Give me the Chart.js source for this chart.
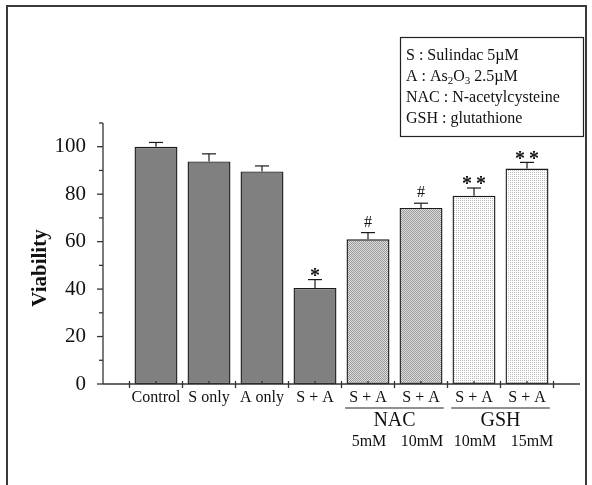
<!DOCTYPE html>
<html>
<head>
<meta charset="utf-8">
<script src="https://cdn.jsdelivr.net/npm/chart.js@4/dist/chart.umd.min.js"></script>
<style>
  html, body { margin: 0; padding: 0; background: #fff; }
  canvas { display: block; }
</style>
</head>
<body>
<canvas id="chart" width="592" height="485"></canvas>
<script>
const xLabels = ['Control', 'S only', 'A only', 'S + A', 'S + A', 'S + A', 'S + A', 'S + A'];
const viability = [100, 93.8, 89.6, 40.5, 61, 74.2, 79.3, 90.8];
const errorUp = [1.8, 3.2, 2.3, 3.5, 2.8, 2.0, 3.3, 2.6];
const marks = ['', '', '', '*', '#', '#', '**', '**'];
const doses = ['', '', '', '', '5mM', '10mM', '10mM', '15mM'];
const groupNames = ['NAC', 'GSH'];
const groupStart = [4, 6];
const groupEnd = [5, 7];
const yMajorTicks = [0, 20, 40, 60, 80, 100];
const yMinorTicks = [10, 30, 50, 70, 90, 110];

const SERIF = '"Liberation Serif", "Times New Roman", serif';
const INK = '#1a1a1a';

const canvas = document.getElementById('chart');
const ctx = canvas.getContext('2d');

function makePattern(size, draw) {
  const c = document.createElement('canvas');
  c.width = size[0];
  c.height = size[1];
  draw(c.getContext('2d'));
  return ctx.createPattern(c, 'repeat');
}

// NAC bars: fine checker, GSH bars: dotted vertical lines
const nacFill = makePattern([2, 2], (g) => {
  g.fillStyle = '#dcdcdc';
  g.fillRect(0, 0, 2, 2);
  g.fillStyle = '#9c9c9c';
  g.fillRect(0, 0, 1, 1);
  g.fillRect(1, 1, 1, 1);
});
const gshFill = makePattern([2, 2], (g) => {
  g.fillStyle = '#ffffff';
  g.fillRect(0, 0, 2, 2);
  g.fillStyle = '#bdbdbd';
  g.fillRect(0, 0, 1, 1);
});
const solidFill = '#808080';
const barFills = [solidFill, solidFill, solidFill, solidFill, nacFill, nacFill, gshFill, gshFill];

function line(x1, y1, x2, y2) {
  ctx.beginPath();
  ctx.moveTo(x1, y1);
  ctx.lineTo(x2, y2);
  ctx.stroke();
}

const decorations = {
  id: 'decorations',
  afterDraw(chart) {
    const { ctx: c, scales: { x, y } } = chart;
    const x0 = x.getPixelForValue(-1);
    const x1 = x.getPixelForValue(8);
    const yBase = y.getPixelForValue(0);
    const yTop = y.getPixelForValue(110);

    c.save();
    // outer frame
    c.strokeStyle = '#3a3a3a';
    c.lineWidth = 2;
    c.strokeRect(7, 6, 579, 500);

    // axes
    c.strokeStyle = '#333';
    c.lineWidth = 1.3;
    line(x0, yTop, x0, yBase);
    line(x0, yBase, x1, yBase);

    yMajorTicks.forEach((v) => {
      const py = y.getPixelForValue(v);
      line(x0 - 6, py, x0, py);
    });
    yMinorTicks.forEach((v) => {
      const py = y.getPixelForValue(v);
      line(x0 - 4, py, x0, py);
    });
    for (let i = 0; i <= xLabels.length; i++) {
      const px = x.getPixelForValue(i - 0.5);
      line(px, yBase - 3, px, yBase + 4);
    }
    xLabels.forEach((_, i) => {
      const px = x.getPixelForValue(i);
      line(px, yBase - 3, px, yBase);
    });

    // error bars
    c.strokeStyle = INK;
    c.lineWidth = 1.2;
    viability.forEach((v, i) => {
      const px = x.getPixelForValue(i);
      const top = y.getPixelForValue(v);
      const cap = y.getPixelForValue(v + errorUp[i]);
      line(px, top, px, cap);
      line(px - 7, cap, px + 7, cap);
    });

    // significance marks
    c.fillStyle = '#111';
    c.textAlign = 'center';
    c.textBaseline = 'middle';
    marks.forEach((m, i) => {
      if (!m) return;
      const px = x.getPixelForValue(i);
      const cap = y.getPixelForValue(viability[i] + errorUp[i]);
      if (m === '#') {
        c.font = `16px ${SERIF}`;
        c.fillText(m, px, cap - 10);
      } else {
        c.font = `bold 20px ${SERIF}`;
        c.fillText(m.split('').join('\u2009'), px, cap - 3);
      }
    });

    // group brackets
    c.strokeStyle = '#222';
    c.lineWidth = 1;
    groupNames.forEach((name, g) => {
      const a = x.getPixelForValue(groupStart[g] - 0.43);
      const b = x.getPixelForValue(groupEnd[g] + 0.43);
      line(a, yBase + 24, b, yBase + 24);
      c.font = `20px ${SERIF}`;
      c.fillText(name, x.getPixelForValue((groupStart[g] + groupEnd[g]) / 2), yBase + 37);
    });
    c.font = `16px ${SERIF}`;
    doses.forEach((d, i) => {
      if (!d) return;
      c.fillText(d, x.getPixelForValue(i) + (i === 7 ? 5 : 1), yBase + 58);
    });

    // y title
    c.save();
    c.translate(41, 268);
    c.rotate(-Math.PI / 2);
    c.font = `bold 21px ${SERIF}`;
    c.fillText('Viability', 0, 0);
    c.restore();

    // key box
    c.strokeStyle = '#222';
    c.lineWidth = 1.2;
    c.strokeRect(400.5, 37.5, 183, 99);
    c.textAlign = 'left';
    c.textBaseline = 'alphabetic';
    c.font = `16px ${SERIF}`;
    const lx = 406;
    c.fillText('S : Sulindac 5\u00b5M', lx, 60);
    let px = lx;
    const parts = [['A : As', 0], ['2', 1], ['O', 0], ['3', 1], [' 2.5\u00b5M', 0]];
    parts.forEach(([t, sub]) => {
      c.font = sub ? `11px ${SERIF}` : `16px ${SERIF}`;
      c.fillText(t, px, sub ? 84 : 81);
      px += c.measureText(t).width;
    });
    c.font = `16px ${SERIF}`;
    c.fillText('NAC : N-acetylcysteine', lx, 102);
    c.fillText('GSH : glutathione', lx, 123);
    c.restore();
  },
};

new Chart(ctx, {
  type: 'bar',
  data: {
    datasets: [{
      data: viability.map((v, i) => ({ x: i, y: v })),
      backgroundColor: barFills,
      borderColor: INK,
      borderWidth: 1.4,
      borderSkipped: false,
      barPercentage: 0.81,
      categoryPercentage: 1,
    }],
  },
  options: {
    responsive: false,
    animation: false,
    devicePixelRatio: 1,
    layout: { padding: { left: 0, right: 12, top: 123, bottom: 0 } },
    plugins: { legend: { display: false }, tooltip: { enabled: false } },
    scales: {
      x: {
        type: 'linear',
        min: -1,
        max: 8,
        offset: false,
        grid: { display: false, offset: false },
        border: { display: false },
        afterFit: (s) => { s.height = 101; },
        ticks: {
          stepSize: 1,
          autoSkip: false,
          maxRotation: 0,
          padding: -4,
          color: '#111',
          font: { family: SERIF, size: 16 },
          callback: (v) => xLabels[v] ?? '',
        },
      },
      y: {
        min: 0,
        max: 110,
        grid: { display: false },
        border: { display: false },
        afterFit: (s) => { s.width = 103; },
        ticks: {
          stepSize: 20,
          padding: 9,
          color: '#111',
          font: { family: SERIF, size: 21 },
          callback: (v) => (yMajorTicks.includes(v) ? v : ''),
        },
      },
    },
  },
  plugins: [decorations],
});
</script>
</body>
</html>
